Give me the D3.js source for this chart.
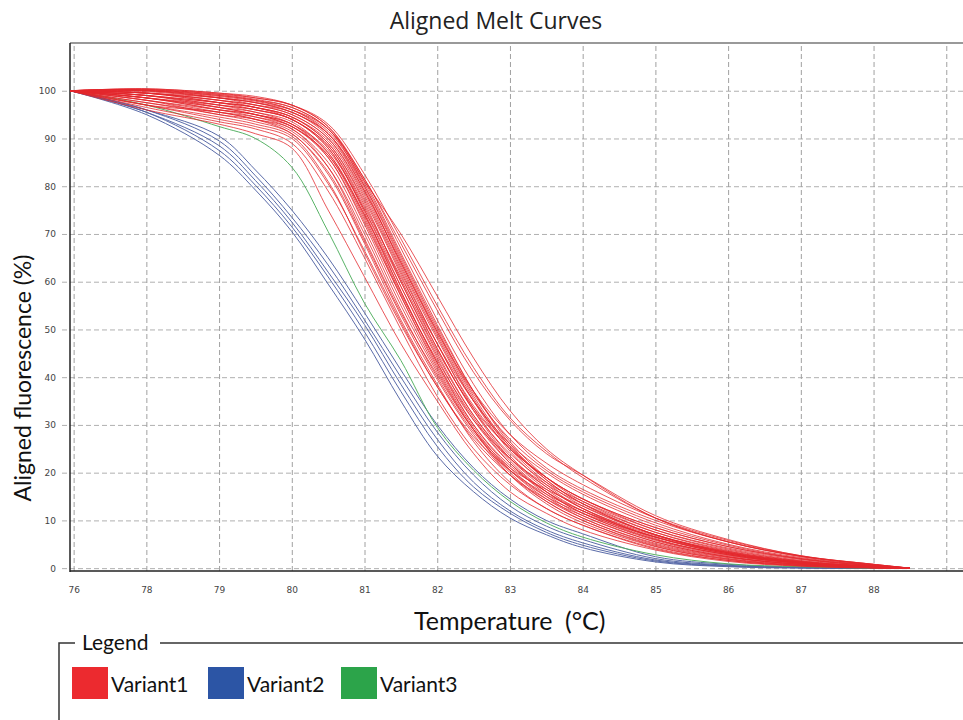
<!DOCTYPE html>
<html>
<head>
<meta charset="utf-8">
<script src="https://cdn.jsdelivr.net/npm/d3@7"></script>
<style>
  html, body { margin: 0; padding: 0; background: #fff; }
  svg { display: block; }
</style>
</head>
<body>
<script>
// ---------- data ----------
const temps = [76.95, 78, 79, 79.5, 80, 80.5, 81, 81.5, 82, 82.5, 83, 83.5, 84, 85, 86, 87, 88, 88.5];

const variant1 = [
  [100, 96.0, 93.0, 91.0, 88.0, 75.0, 61.0, 47.0, 35.0, 24.0, 16.0, 11.5, 8.0, 3.8, 1.4, 0.4, 0.0, 0],
  [100, 96.5, 93.5, 92.0, 89.0, 79.0, 65.0, 50.0, 36.0, 25.0, 17.5, 12.5, 9.0, 4.2, 1.6, 0.5, 0.1, 0],
  [100, 97.0, 94.5, 93.0, 90.5, 81.0, 66.0, 51.0, 38.0, 27.0, 19.5, 14.5, 11.0, 5.5, 2.4, 0.8, 0.1, 0],
  [100, 97.5, 95.0, 93.5, 91.0, 82.5, 68.0, 52.0, 38.5, 26.5, 18.0, 12.5, 9.0, 4.0, 1.6, 0.5, 0.1, 0],
  [100, 98.0, 95.0, 94.0, 91.5, 84.0, 70.0, 54.0, 40.0, 28.5, 20.5, 15.0, 11.5, 6.5, 3.2, 1.2, 0.3, 0],
  [100, 97.0, 95.5, 94.0, 92.0, 84.0, 69.0, 53.5, 40.5, 29.0, 21.0, 16.5, 13.0, 7.0, 3.5, 1.4, 0.3, 0],
  [100, 98.5, 96.0, 94.5, 92.0, 85.0, 71.0, 55.0, 41.0, 29.0, 20.0, 14.0, 10.0, 4.8, 2.0, 0.7, 0.1, 0],
  [100, 98.0, 96.0, 95.0, 92.5, 86.0, 72.5, 57.0, 42.5, 30.0, 21.5, 16.0, 12.0, 6.5, 3.0, 1.1, 0.2, 0],
  [100, 99.0, 96.5, 95.0, 93.0, 86.0, 72.0, 56.0, 41.5, 29.0, 19.5, 13.5, 9.5, 4.5, 1.8, 0.6, 0.1, 0],
  [100, 98.5, 96.5, 95.5, 93.0, 87.0, 74.0, 58.0, 43.0, 31.0, 23.0, 17.5, 13.5, 7.5, 3.8, 1.5, 0.4, 0],
  [100, 99.0, 97.0, 95.5, 93.5, 87.0, 73.5, 57.5, 43.5, 31.5, 22.0, 15.5, 11.0, 5.5, 2.4, 0.8, 0.2, 0],
  [100, 98.5, 96.5, 95.0, 92.5, 86.5, 74.0, 59.0, 44.5, 32.0, 23.0, 17.0, 12.5, 6.8, 3.2, 1.2, 0.3, 0],
  [100, 99.5, 97.5, 96.0, 94.0, 88.0, 75.0, 59.0, 44.0, 31.0, 22.0, 16.0, 11.5, 6.0, 2.8, 1.0, 0.2, 0],
  [100, 99.0, 97.0, 96.0, 94.0, 88.5, 76.0, 60.5, 46.0, 33.0, 24.0, 18.0, 14.0, 8.0, 4.2, 1.8, 0.5, 0],
  [100, 99.5, 98.0, 96.5, 94.5, 89.0, 76.5, 60.0, 45.0, 32.0, 22.5, 16.0, 11.5, 5.8, 2.6, 1.0, 0.2, 0],
  [100, 99.0, 97.5, 96.5, 94.5, 89.5, 77.5, 62.0, 47.0, 34.0, 25.0, 19.0, 14.5, 8.5, 4.5, 2.0, 0.6, 0],
  [100, 99.5, 98.0, 97.0, 95.0, 90.0, 78.0, 62.5, 47.0, 33.5, 23.5, 17.0, 12.5, 6.5, 3.0, 1.1, 0.2, 0],
  [100, 100.0, 98.5, 97.0, 95.0, 90.0, 78.5, 63.0, 48.0, 35.0, 25.5, 19.0, 14.5, 8.0, 4.0, 1.6, 0.4, 0],
  [100, 99.5, 98.0, 97.0, 95.5, 90.5, 79.0, 64.0, 49.0, 35.5, 25.0, 18.0, 13.0, 7.0, 3.4, 1.3, 0.3, 0],
  [100, 100.0, 98.5, 97.5, 95.5, 91.0, 80.0, 65.0, 50.0, 36.5, 27.0, 20.5, 16.0, 9.5, 5.0, 2.2, 0.6, 0],
  [100, 100.2, 99.0, 98.0, 96.0, 91.5, 80.5, 65.5, 50.5, 37.0, 26.5, 19.0, 14.0, 7.5, 3.6, 1.4, 0.3, 0],
  [100, 99.8, 98.5, 97.5, 96.0, 92.0, 81.5, 67.0, 52.0, 38.5, 28.0, 21.0, 16.5, 10.0, 5.5, 2.5, 0.7, 0],
  [100, 100.3, 99.2, 98.2, 96.5, 92.0, 81.0, 66.0, 51.0, 37.0, 26.0, 18.5, 13.5, 7.0, 3.3, 1.3, 0.3, 0],
  [100, 100.4, 99.5, 98.5, 97.0, 92.5, 81.5, 68.0, 54.0, 41.0, 31.0, 24.0, 19.5, 11.0, 6.0, 2.6, 0.8, 0],
  [100, 100.2, 99.3, 98.5, 97.0, 93.0, 82.5, 69.0, 55.0, 42.0, 31.5, 24.5, 19.0, 10.5, 5.5, 2.4, 0.7, 0],
  [100, 100.4, 99.5, 98.8, 97.0, 92.5, 81.0, 70.0, 57.0, 44.0, 33.0, 25.0, 19.5, 10.5, 5.5, 2.5, 0.8, 0],
  [100, 98.0, 95.5, 94.0, 91.0, 83.0, 68.5, 53.0, 39.5, 28.0, 19.5, 14.0, 10.0, 4.6, 1.9, 0.6, 0.1, 0],
  [100, 97.5, 95.5, 94.5, 92.5, 86.5, 73.0, 57.0, 42.0, 29.5, 20.5, 14.5, 10.5, 5.0, 2.2, 0.8, 0.1, 0],
  [100, 98.5, 97.0, 96.0, 94.0, 88.0, 74.5, 58.0, 43.0, 30.0, 21.0, 15.0, 10.5, 5.2, 2.3, 0.8, 0.1, 0],
  [100, 99.0, 97.5, 96.5, 94.0, 88.5, 75.5, 61.0, 47.0, 35.0, 26.0, 20.0, 15.5, 9.0, 4.8, 2.0, 0.5, 0],
  [100, 99.5, 98.5, 97.5, 95.5, 91.0, 79.5, 63.5, 48.5, 35.0, 24.5, 17.5, 12.5, 6.2, 2.8, 1.0, 0.2, 0],
  [100, 100.0, 99.0, 98.0, 96.5, 92.0, 80.0, 64.5, 49.5, 36.0, 25.5, 18.5, 13.5, 7.0, 3.2, 1.2, 0.3, 0],
  [100, 97.0, 94.0, 92.5, 90.0, 80.5, 66.5, 51.5, 38.0, 27.5, 20.5, 15.5, 12.0, 6.5, 3.0, 1.1, 0.2, 0],
  [100, 98.5, 96.0, 95.0, 93.0, 87.5, 75.0, 60.0, 45.5, 33.5, 25.0, 19.0, 14.5, 8.5, 4.5, 1.9, 0.5, 0],
  [100, 99.5, 97.5, 96.5, 94.5, 89.0, 77.0, 61.5, 46.0, 33.0, 23.0, 16.5, 12.0, 6.0, 2.8, 1.0, 0.2, 0],
  [100, 100.1, 98.8, 97.8, 96.0, 91.0, 79.0, 64.0, 49.5, 37.0, 28.0, 22.0, 17.5, 10.5, 5.8, 2.6, 0.8, 0]
];

const variant2 = [
  [100, 95.0, 86.5, 79.2, 70.5, 59.5, 48.0, 35.0, 23.5, 16.0, 10.5, 7.0, 4.3, 1.3, 0.3, 0.0, 0, 0],
  [100, 95.5, 87.5, 80.2, 71.5, 61.0, 49.5, 37.0, 25.5, 17.0, 11.5, 7.5, 4.8, 1.5, 0.4, 0.1, 0, 0],
  [100, 95.5, 88.5, 81.2, 72.5, 62.0, 51.0, 38.5, 27.0, 18.0, 12.0, 8.0, 5.3, 1.7, 0.5, 0.1, 0, 0],
  [100, 96.0, 89.5, 82.2, 73.5, 63.5, 52.0, 40.0, 28.5, 19.5, 13.0, 8.8, 6.0, 2.0, 0.6, 0.1, 0, 0],
  [100, 96.0, 90.5, 83.4, 75.0, 65.0, 53.5, 41.5, 30.0, 21.0, 14.5, 10.0, 7.2, 2.4, 0.8, 0.2, 0, 0]
];

const variant3 = [
  [100, 97.0, 92.5, 90.0, 84.0, 70.5, 55.5, 43.5, 29.5, 20.5, 14.0, 9.5, 6.5, 2.8, 0.9, 0.3, 0, 0]
];

const seriesNames = ["Variant1", "Variant2", "Variant3"];
const swatchColors = ["#ec2a2f", "#2c55a5", "#2ca44a"];
const lineColors = ["#e3262c", "#5163a3", "#4fae5e"];

const yTicks = [0, 10, 20, 30, 40, 50, 60, 70, 80, 90, 100];
const xGridTicks = [77, 78, 79, 80, 81, 82, 83, 84, 85, 86, 87, 88, 89];
const xTickLabels = ["76", "78", "79", "80", "81", "82", "83", "84", "85", "86", "87", "88"];
const xDomain = [76.95, 89.23];
const yDomain = [-0.6, 110];

(function () {
  // ---------- layout ----------
  const W = 963, H = 720;
  const pL = 70, pR = 963, pT = 43, pB = 571;

  const svg = d3.select("body").append("svg").attr("width", W).attr("height", H);

  const x = d3.scaleLinear().domain(xDomain).range([pL, pR]);
  const y = d3.scaleLinear().domain(yDomain).range([pB, pT]);

  const tickFont = "'DejaVu Sans', sans-serif";
  const textFont = "Lato, 'Open Sans', sans-serif";

  // horizontal grid + y tick labels
  const gy = svg.append("g").attr("transform", `translate(62,0)`)
    .call(d3.axisLeft(y).tickValues(yTicks).tickSize(-(pR - 62)).tickPadding(6).tickFormat(d3.format("d")));
  gy.select(".domain").remove();
  gy.selectAll(".tick line").attr("stroke", "#b0b0b0").attr("stroke-dasharray", "5,3").attr("stroke-width", 1);
  gy.selectAll(".tick text").attr("font-family", tickFont).attr("font-size", 9).attr("fill", "#444");

  // vertical grid + x tick labels
  const gx = svg.append("g").attr("transform", `translate(0,${pB})`)
    .call(d3.axisBottom(x).tickValues(xGridTicks).tickSize(-(pB - pT)).tickPadding(16)
      .tickFormat((d, i) => xTickLabels[i] !== undefined ? xTickLabels[i] : ""));
  gx.select(".domain").remove();
  gx.selectAll(".tick line").attr("stroke", "#a0a0a0").attr("stroke-dasharray", "5,3").attr("stroke-width", 1);
  gx.selectAll(".tick text").attr("font-family", tickFont).attr("font-size", 9).attr("fill", "#444");

  // frame
  svg.append("line").attr("x1", pL).attr("x2", pR).attr("y1", pT).attr("y2", pT)
    .attr("stroke", "#999").attr("stroke-width", 2);
  svg.append("line").attr("x1", pL).attr("x2", pL).attr("y1", pT).attr("y2", pB + 1)
    .attr("stroke", "#222").attr("stroke-width", 1.5);
  svg.append("line").attr("x1", pL).attr("x2", pR).attr("y1", pB).attr("y2", pB)
    .attr("stroke", "#222").attr("stroke-width", 1.5);

  // curves
  const line = d3.line().x((d, i) => x(temps[i])).y(d => y(d)).curve(d3.curveCatmullRom.alpha(0.5));
  const groups = [
    { data: variant2, color: lineColors[1], op: 0.95 },
    { data: variant3, color: lineColors[2], op: 0.95 },
    { data: variant1, color: lineColors[0], op: 0.78 }
  ];
  groups.forEach(gp => {
    svg.append("g").selectAll("path").data(gp.data).join("path")
      .attr("d", line).attr("fill", "none").attr("stroke", gp.color)
      .attr("stroke-width", 1).attr("stroke-opacity", gp.op);
  });

  // titles
  svg.append("text").attr("x", 496).attr("y", 29).attr("text-anchor", "middle")
    .attr("font-family", "'Open Sans', sans-serif").attr("font-size", 23).attr("fill", "#222").text("Aligned Melt Curves");
  const xt = svg.append("text").attr("y", 630)
    .attr("font-family", textFont).attr("font-size", 25).attr("fill", "#111");
  xt.append("tspan").attr("x", 414).text("Temperature");
  xt.append("tspan").attr("x", 565).text("(°C)");
  svg.append("text").attr("transform", "translate(31,378) rotate(-90)").attr("text-anchor", "middle")
    .attr("font-family", textFont).attr("font-size", 23).attr("fill", "#111").text("Aligned fluorescence   (%)");

  // legend box
  const legLineY = 643;
  svg.append("path").attr("d", `M59,720 V${legLineY} H75`).attr("fill", "none").attr("stroke", "#333").attr("stroke-width", 1.5);
  svg.append("line").attr("x1", 160).attr("x2", W).attr("y1", legLineY).attr("y2", legLineY).attr("stroke", "#333").attr("stroke-width", 1.5);
  svg.append("text").attr("x", 82).attr("y", 650).attr("font-family", textFont).attr("font-size", 21).attr("fill", "#111").text("Legend");

  const legX = [72, 208, 341];
  seriesNames.forEach((n, i) => {
    svg.append("rect").attr("x", legX[i]).attr("y", 667).attr("width", 36).attr("height", 32).attr("fill", swatchColors[i]);
    svg.append("text").attr("x", legX[i] + 39).attr("y", 692).attr("font-family", textFont).attr("font-size", 21).attr("fill", "#111").text(n);
  });
})();
</script>
</body>
</html>
